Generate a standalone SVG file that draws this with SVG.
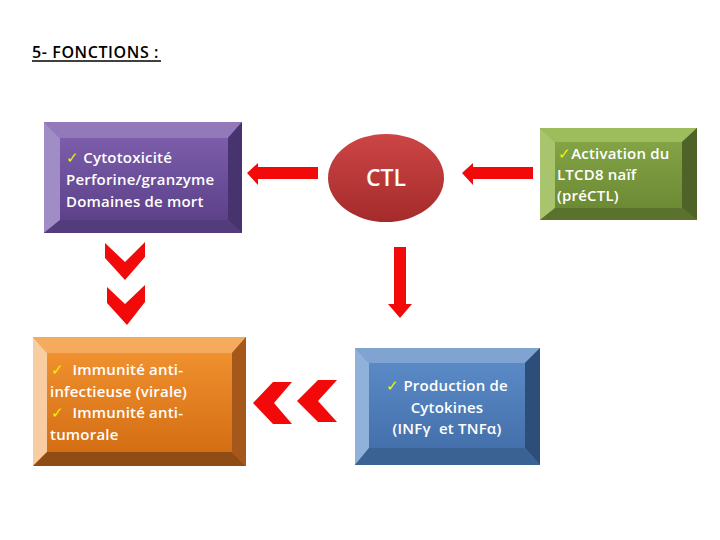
<svg xmlns="http://www.w3.org/2000/svg" width="720" height="540" viewBox="0 0 720 540">
<defs>
<linearGradient id="gP" x1="0" y1="0" x2="0" y2="1"><stop offset="0" stop-color="#7b5dab"/><stop offset="1" stop-color="#5d4189"/></linearGradient>
<linearGradient id="gG" x1="0" y1="0" x2="0" y2="1"><stop offset="0" stop-color="#83a346"/><stop offset="1" stop-color="#6c8a34"/></linearGradient>
<linearGradient id="gO" x1="0" y1="0" x2="0" y2="1"><stop offset="0" stop-color="#f0902e"/><stop offset="1" stop-color="#d46e14"/></linearGradient>
<linearGradient id="gB" x1="0" y1="0" x2="0" y2="1"><stop offset="0" stop-color="#5a8ac6"/><stop offset="1" stop-color="#4470ab"/></linearGradient>
<linearGradient id="gR" x1="0" y1="0" x2="0" y2="1"><stop offset="0" stop-color="#cd4545"/><stop offset="1" stop-color="#a52b2b"/></linearGradient>
</defs>
<style>
.t{font-family:"Open Sans","Liberation Sans",Arial,sans-serif;font-weight:600;font-size:15px;letter-spacing:0.2px;fill:#ffffff;white-space:pre}
.ck{fill:#f2f200;font-weight:400}
.title{font-family:"Open Sans","Liberation Sans",Arial,sans-serif;font-weight:600;font-size:16px;letter-spacing:0.6px;fill:#000000}
.arr{fill:#f20a0a}
</style>
<rect width="720" height="540" fill="#ffffff"/>
<g id="title">
<text class="title" x="32" y="58">5- FONCTIONS :</text>
<line x1="32" y1="61" x2="161" y2="61" stroke="#000" stroke-width="1.3"/>
</g>
<g id="cytotox">
<rect x="44" y="122" width="198" height="111" fill="#6a4c98"/>
<polygon points="44,122 242,122 228,138 60,138" fill="#9179ba"/>
<polygon points="44,122 60,138 60,220 44,233" fill="#a08dc6"/>
<polygon points="242,122 242,233 228,220 228,138" fill="#47336d"/>
<polygon points="44,233 60,220 228,220 242,233" fill="#523c7c"/>
<rect x="60" y="138" width="168" height="82" fill="url(#gP)"/>
<text class="t" x="66" y="163"><tspan class="ck">✓</tspan> Cytotoxicité</text>
<text class="t" x="66" y="185">Perforine/granzyme</text>
<text class="t" x="66" y="207">Domaines de mort</text>
</g>
<g id="ctl">
<ellipse cx="386" cy="178" rx="58" ry="44" fill="url(#gR)"/>
<text x="386" y="186" text-anchor="middle" font-family="'Open Sans','Liberation Sans',Arial,sans-serif" font-weight="600" font-size="23" fill="#ffffff">CTL</text>
</g>
<g id="activation">
<rect x="540" y="128" width="157" height="92" fill="#77933c"/>
<polygon points="540,128 697,128 682,142 555,142" fill="#9dbd5c"/>
<polygon points="540,128 555,142 555,208 540,220" fill="#a8c56e"/>
<polygon points="697,128 697,220 682,208 682,142" fill="#4f6228"/>
<polygon points="540,220 555,208 682,208 697,220" fill="#5b722e"/>
<rect x="555" y="142" width="127" height="66" fill="url(#gG)"/>
<text class="t" x="558" y="159"><tspan class="ck">✓</tspan>Activation du</text>
<text class="t" x="557" y="180">LTCD8 naïf</text>
<text class="t" x="557" y="201">(préCTL)</text>
</g>
<g id="immunite">
<rect x="33" y="337" width="213" height="129" fill="#e07a20"/>
<polygon points="33,337 246,337 232,353 47,353" fill="#f5ab5e"/>
<polygon points="33,337 47,353 47,452 33,466" fill="#f8cda2"/>
<polygon points="246,337 246,466 232,452 232,353" fill="#a5581a"/>
<polygon points="33,466 47,452 232,452 246,466" fill="#8f4c15"/>
<rect x="47" y="353" width="185" height="99" fill="url(#gO)"/>
<text class="t" x="51" y="375"><tspan class="ck">✓</tspan>  Immunité anti-</text>
<text class="t" x="50" y="397">infectieuse (virale)</text>
<text class="t" x="51" y="418"><tspan class="ck">✓</tspan>  Immunité anti-</text>
<text class="t" x="50" y="440">tumorale</text>
</g>
<g id="cytokines">
<rect x="355" y="348" width="185" height="117" fill="#4f81bd"/>
<polygon points="355,348 540,348 525,363 369,363" fill="#80a4d2"/>
<polygon points="355,348 369,363 369,448 355,465" fill="#90b1da"/>
<polygon points="540,348 540,465 525,448 525,363" fill="#2c4e78"/>
<polygon points="355,465 369,448 525,448 540,465" fill="#3a6394"/>
<rect x="369" y="363" width="156" height="85" fill="url(#gB)"/>
<text class="t" x="447" y="391" text-anchor="middle"><tspan class="ck">✓</tspan> Production de</text>
<text class="t" x="447" y="413" text-anchor="middle">Cytokines</text>
<text class="t" x="447" y="434" text-anchor="middle">(INFγ  et TNFα)</text>
</g>
<g id="connectors">
<polygon class="arr" points="247,173 258,163 258,167 318,167 318,179 258,179 258,185"/>
<polygon class="arr" points="462,173 473,163 473,167 533,167 533,179 473,179 473,185"/>
<polygon class="arr" points="394,247 406,247 406,304 412,304 400,318 388,304 394,304"/>
<polygon class="arr" points="105,243 125,262 145,242 145,257 125,280 105,258"/>
<polygon class="arr" points="107,287 125,304 145,285 145,302 127,325 107,303"/>
<polygon class="arr" points="253,403 273,382 292,382 274,403 292,424 273,424"/>
<polygon class="arr" points="297,401 318,380 337,380 318,401 337,422 318,422"/>
</g>
</svg>
